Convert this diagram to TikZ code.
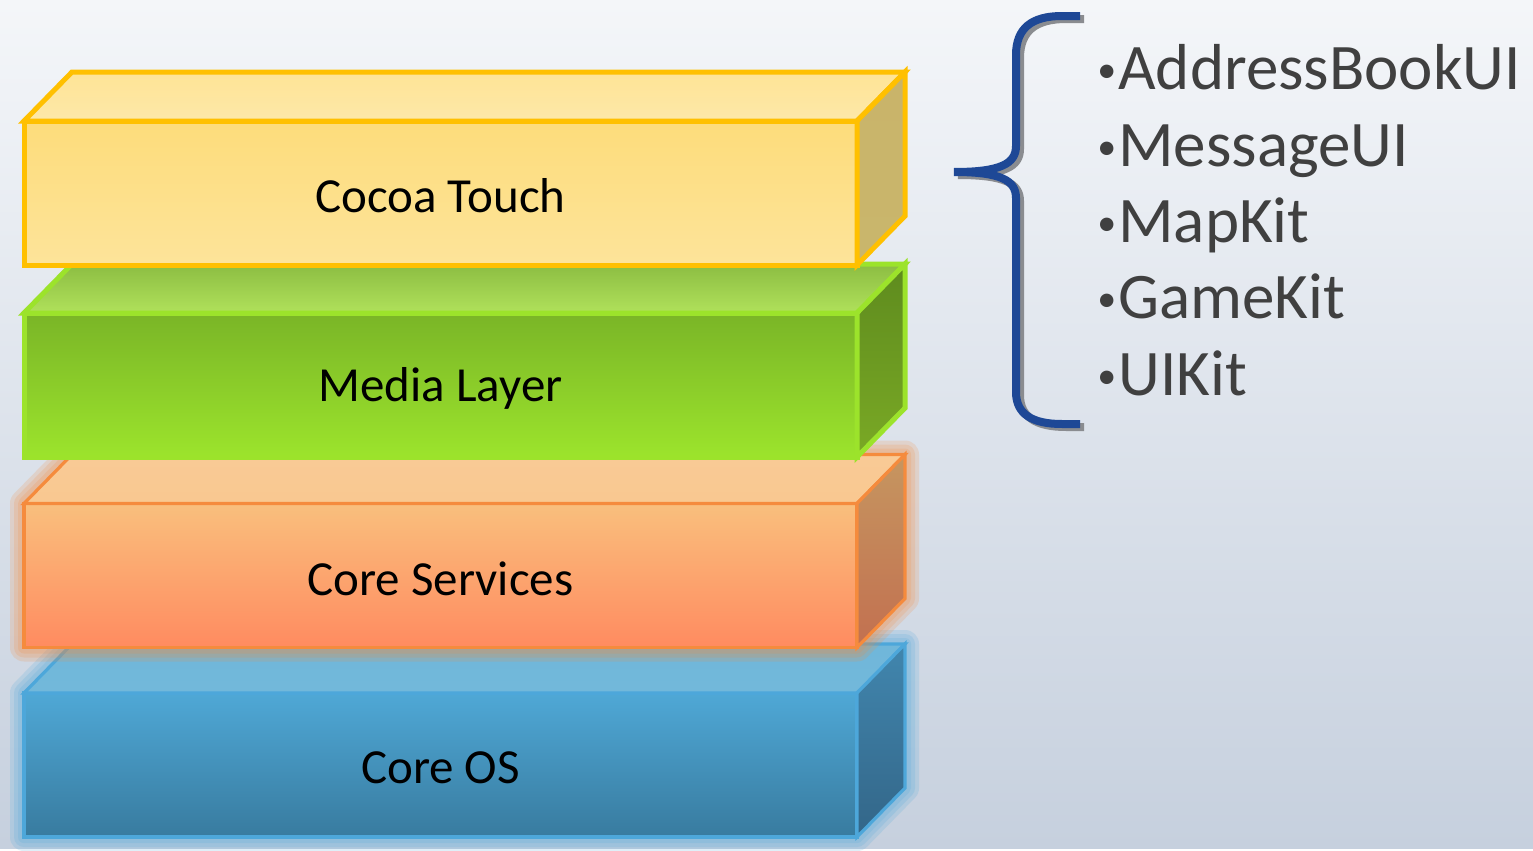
\documentclass[tikz,border=0pt]{standalone}
\usepackage{fontspec}
\setmainfont{Carlito}
\usetikzlibrary{positioning,calc}
\definecolor{bgtop}{HTML}{F4F6F9}
\definecolor{bgbot}{HTML}{C6D0DE}
\definecolor{touchline}{HTML}{FFC000}
\definecolor{touchfront}{HTML}{FDDC7B}
\definecolor{touchfrontb}{HTML}{FDE49A}
\definecolor{touchtop}{HTML}{FEE496}
\definecolor{touchtopb}{HTML}{FDE8A8}
\definecolor{touchside}{HTML}{C9B46A}
\definecolor{touchsideb}{HTML}{C9B66C}
\definecolor{medialine}{HTML}{9CE32B}
\definecolor{mediafront}{HTML}{7AB527}
\definecolor{mediafrontb}{HTML}{9CE42C}
\definecolor{mediatop}{HTML}{8CBD42}
\definecolor{mediatopb}{HTML}{B0E15B}
\definecolor{mediaside}{HTML}{5E8B1E}
\definecolor{mediasideb}{HTML}{7AA925}
\definecolor{servline}{HTML}{F58B3D}
\definecolor{servfront}{HTML}{F9BF7D}
\definecolor{servfrontb}{HTML}{FF8B60}
\definecolor{servtop}{HTML}{F9CA96}
\definecolor{servtopb}{HTML}{F9C890}
\definecolor{servside}{HTML}{C69660}
\definecolor{servsideb}{HTML}{C27050}
\definecolor{osline}{HTML}{4DA7DA}
\definecolor{osfront}{HTML}{4FA8D6}
\definecolor{osfrontb}{HTML}{387B9F}
\definecolor{ostop}{HTML}{70B7DA}
\definecolor{ostopb}{HTML}{72B8DA}
\definecolor{osside}{HTML}{4186AE}
\definecolor{ossideb}{HTML}{336688}
\definecolor{bracecol}{HTML}{1E4896}
\definecolor{bracegray}{HTML}{8A8C90}
\definecolor{itemink}{HTML}{404040}

\tikzset{
  layer/.style={minimum width=416.5pt, minimum height=72pt, inner sep=0pt, outer sep=0pt,
    font=\fontsize{24.5}{28}\selectfont, text=black},
  item/.style={anchor=base west, inner sep=0pt, font=\fontsize{32.5}{38}\selectfont, text=itemink},
}
\newcommand\smallbullet{{\fontsize{19}{19}\selectfont\raisebox{3.5pt}{•}}\kern1pt}

\begin{document}
\begin{tikzpicture}[x=0.5pt,y=-0.5pt]
\fill[top color=bgtop, bottom color=bgbot] (0,0) rectangle (1533,848);

% layers, drawn from the bottom up
\foreach \name/\ypos/\lbl/\col/\lw/\go in {os/765/Core OS/os/1.6/0.18, serv/575.5/Core Services/serv/1.6/0.18, media/385/Media Layer/media/2.5/0, touch/193/Cocoa Touch/touch/2.5/0} {
  \foreach \w in {14,10,6}
    \draw[\col line, opacity=\go, line width=\w pt, line join=round] (24,\ypos-72) -- (72,\ypos-121) -- (905,\ypos-121) -- (905,\ypos+23) -- (857,\ypos+72) -- (24,\ypos+72) -- cycle;
  \node[layer, draw=\col line, line width=\lw pt, top color=\col front, bottom color=\col frontb] (\name) at (440.5,\ypos) {};
  \node[layer, draw=none] (\name-lbl) at ([yshift=-1.5pt]\name.center) {\lbl};
  \draw[\col line, line width=\lw pt, top color=\col top, bottom color=\col topb] (\name.north west) -- ++(48,-49) -- ++(833,0) -- (\name.north east) -- cycle;
  \draw[\col line, line width=\lw pt, top color=\col side, bottom color=\col sideb] (\name.north east) -- ++(48,-49) -- ++(0,144) -- (\name.south east) -- cycle;
}

% brace
\coordinate (brtop) at (1080,16);
\coordinate (brtip) at (954,172);
\coordinate (brbot) at (1080,424);
\path[save path=\bracepath] (brtop) -- (1062,16) .. controls (1032,16) and (1016,28) .. (1016,55) -- (1016,146) .. controls (1016,164) and (1000,172) .. (brtip) .. controls (1000,172) and (1016,180) .. (1016,198) -- (1016,392) .. controls (1016,414) and (1032,424) .. (1062,424) -- (brbot);
\draw[bracegray, line width=4pt, transform canvas={shift={(4,3)}}, use path=\bracepath];
\draw[bracecol, line width=4pt, use path=\bracepath];

% frameworks
\foreach \name/\txt [count=\i from 0] in {abui/AddressBookUI, msgui/MessageUI, mapkit/MapKit, gamekit/GameKit, uikit/UIKit}
  \node[item] (\name) at (1097,{90+76.3*\i}) {\smallbullet\txt};
\end{tikzpicture}
\end{document}
